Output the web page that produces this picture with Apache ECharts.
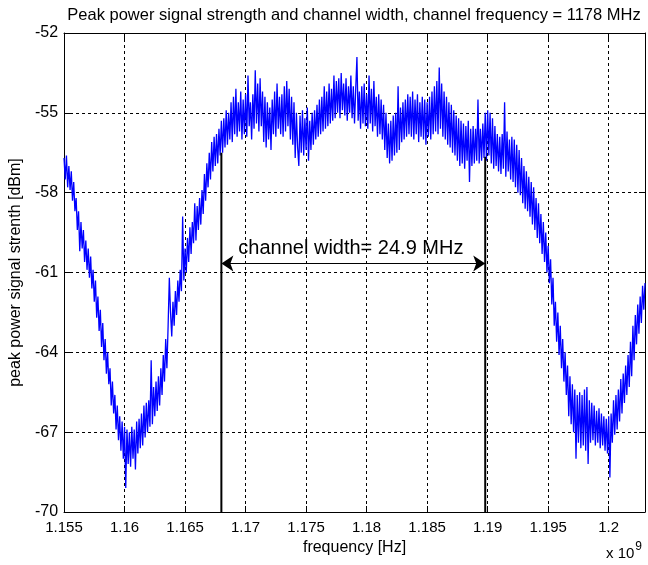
<!DOCTYPE html>
<html><head><meta charset="utf-8">
<script src="https://cdn.jsdelivr.net/npm/echarts@6/dist/echarts.min.js"></script>
<style>html,body{margin:0;padding:0;background:#fff}#c{width:648px;height:565px}</style>
</head><body><div id="c"></div>
<script>
// Sampling grid of the measured spectrum (MHz)
const FREQ_START_MHZ = 1155;
const FREQ_STEP_MHZ = 0.1;
// Peak power readings (dBm), one per 0.1 MHz
const powerDbm = [
-56.7,-57.5,-56.6,-57.8,-57.0,-57.9,-57.2,-58.3,-57.6,-58.7,
-58.2,-59.4,-58.7,-60.2,-59.1,-60.1,-59.4,-60.6,-59.8,-60.9,
-60.1,-61.2,-60.4,-61.6,-60.9,-62.1,-61.3,-62.7,-61.9,-63.2,
-62.4,-63.8,-62.9,-64.3,-63.5,-64.8,-64.0,-65.2,-64.6,-66.0,
-65.1,-66.3,-65.6,-66.9,-66.0,-67.3,-66.4,-67.7,-66.6,-68.0,
-66.8,-69.1,-66.9,-68.2,-67.0,-68.3,-66.8,-68.0,-66.9,-68.4,
-66.6,-67.8,-66.5,-67.6,-66.3,-67.5,-66.0,-67.2,-65.9,-67.0,
-65.8,-66.8,-64.3,-66.7,-65.3,-66.4,-65.1,-66.2,-64.9,-66.0,
-64.6,-65.6,-64.1,-65.1,-63.5,-64.6,-63.0,-61.2,-62.5,-63.4,
-62.1,-63.0,-61.7,-62.6,-61.3,-62.1,-60.9,-61.7,-58.9,-61.3,
-60.1,-61.0,-59.7,-60.6,-59.3,-60.3,-59.1,-59.9,-58.4,-59.8,
-58.5,-59.4,-58.2,-59.2,-57.9,-58.8,-57.3,-58.3,-56.9,-57.8,
-56.5,-57.5,-56.1,-57.2,-55.9,-57.0,-55.8,-56.9,-55.6,-56.6,
-55.3,-56.5,-55.2,-56.3,-54.9,-56.2,-55.0,-56.0,-54.6,-56.1,
-54.4,-55.8,-54.1,-55.9,-54.6,-55.7,-54.2,-56.0,-54.5,-55.8,
-54.3,-55.9,-53.6,-55.5,-54.6,-56.0,-54.3,-55.6,-53.4,-55.4,
-53.9,-55.7,-53.7,-55.5,-54.2,-56.1,-54.4,-56.3,-54.6,-56.0,
-54.8,-56.4,-54.5,-55.8,-54.2,-55.9,-53.9,-55.6,-54.4,-55.8,
-54.3,-55.9,-54.0,-55.7,-53.8,-55.5,-54.1,-56.0,-54.4,-56.2,
-54.6,-56.7,-55.0,-56.3,-57.0,-55.1,-56.5,-54.9,-56.6,-55.2,
-56.4,-54.8,-56.8,-55.3,-56.4,-55.0,-56.2,-54.9,-56.0,-54.7,
-55.9,-54.5,-55.8,-54.4,-55.7,-54.0,-55.6,-54.2,-55.5,-53.9,
-55.4,-54.1,-55.3,-53.6,-55.2,-53.8,-55.0,-53.7,-55.2,-53.5,
-54.9,-53.9,-55.1,-53.7,-55.3,-54.0,-55.0,-53.6,-55.2,-54.0,
-55.4,-54.1,-52.9,-55.3,-54.2,-55.6,-54.0,-55.4,-53.9,-55.5,
-54.3,-55.6,-53.6,-55.4,-54.1,-55.7,-53.8,-55.5,-54.4,-55.9,
-54.3,-55.8,-54.5,-56.0,-54.7,-56.4,-55.0,-56.7,-55.4,-56.9,
-55.3,-56.8,-55.1,-56.6,-55.0,-56.5,-54.0,-56.4,-54.8,-56.1,
-54.6,-56.0,-54.5,-55.9,-54.3,-55.8,-54.4,-55.9,-54.2,-56.0,
-54.5,-55.8,-54.3,-56.1,-54.6,-55.9,-54.4,-56.0,-54.5,-56.2,
-54.6,-55.9,-54.4,-56.0,-54.2,-55.8,-54.0,-55.7,-53.8,-55.8,
-53.3,-55.6,-53.9,-55.9,-54.2,-56.0,-54.4,-56.2,-54.6,-56.3,
-54.7,-56.5,-54.9,-56.6,-55.1,-56.8,-55.2,-57.0,-55.3,-56.9,
-55.4,-57.1,-55.5,-56.8,-55.3,-57.6,-55.6,-57.0,-55.5,-56.9,
-55.6,-56.8,-54.5,-56.9,-55.6,-56.8,-55.4,-56.7,-55.0,-56.8,
-54.9,-56.6,-55.0,-56.9,-55.2,-57.1,-55.5,-57.0,-55.8,-57.2,
-55.9,-57.3,-55.8,-57.1,-54.6,-57.4,-55.7,-57.2,-56.0,-57.5,
-55.9,-57.6,-56.0,-57.8,-56.2,-58.0,-56.4,-58.1,-56.7,-58.4,
-57.0,-58.6,-57.2,-58.7,-57.4,-58.9,-57.6,-59.2,-57.8,-59.4,
-58.2,-59.7,-58.4,-59.9,-58.8,-60.3,-59.1,-60.6,-59.5,-61.0,
-60.0,-61.4,-60.5,-62.2,-61.2,-63.0,-62.1,-63.6,-62.5,-64.1,
-63.0,-64.6,-63.5,-65.1,-64.0,-65.6,-64.5,-66.4,-64.9,-66.7,
-65.2,-67.0,-65.4,-68.0,-65.6,-67.4,-65.5,-67.6,-65.6,-67.5,
-65.4,-67.7,-65.3,-68.2,-65.8,-67.4,-65.9,-67.3,-66.0,-67.5,
-66.2,-67.4,-66.1,-67.6,-66.3,-67.5,-66.4,-67.7,-66.5,-67.8,
-66.4,-68.7,-66.3,-67.4,-65.8,-67.1,-65.6,-66.9,-65.4,-66.6,
-65.0,-66.3,-64.8,-65.9,-64.5,-65.6,-64.1,-65.3,-63.6,-64.9,
-63.0,-64.3,-62.6,-63.7,-62.2,-63.3,-61.9,-62.9,-61.5,-62.4,
-61.4
];
// Axis ranges / ticks
const xRangeMHz = [1155, 1203];
const xTickStepMHz = 5;
const yRangeDbm = [-70, -52];
const yTickStepDbm = 3;
// Channel-edge annotation
const edgeFreqMHz = [1168.0, 1189.8];
const edgeTopDbm = [-56.5, -56.65];
const arrowDbm = -60.66;
const labelPos = [1178.7, -60.1];
const labelText = 'channel width= 24.9 MHz';
const titleText = 'Peak power signal strength and channel width, channel frequency = 1178 MHz';

const FONT = '"Liberation Sans", Arial, Helvetica, sans-serif';
const series = powerDbm.map((v, i) => [FREQ_START_MHZ + i * FREQ_STEP_MHZ, v]);

const chart = echarts.init(document.getElementById('c'), null, {renderer: 'canvas'});
const axisCommon = {
  type: 'value',
  axisLine: {show: true, onZero: false, lineStyle: {color: '#000', width: 1}},
  axisTick: {show: true, inside: true, length: 6, lineStyle: {color: '#000', width: 1}},
};
chart.setOption({
  animation: false,
  backgroundColor: '#fff',
  grid: {left: 63, right: 2, top: 33, bottom: 53, containLabel: false, show: false},
  xAxis: [
    Object.assign({}, axisCommon, {
      min: xRangeMHz[0], max: xRangeMHz[1], interval: xTickStepMHz, position: 'bottom',
      axisLabel: {color: '#000', fontSize: 15, fontFamily: FONT, margin: 8,
        formatter: v => (Math.round(v) % xTickStepMHz === 0 ? String(Math.round(v) / 1000) : '')},
      splitLine: {show: true, lineStyle: {color: '#000', width: 1, type: [3, 3]}},
      name: 'frequency [Hz]', nameLocation: 'middle', nameGap: 24,
      nameTextStyle: {color: '#000', fontSize: 16, fontFamily: FONT}
    }),
    Object.assign({}, axisCommon, {
      min: xRangeMHz[0], max: xRangeMHz[1], interval: xTickStepMHz, position: 'top',
      axisLabel: {show: false}, splitLine: {show: false}
    })
  ],
  yAxis: [
    Object.assign({}, axisCommon, {
      min: yRangeDbm[0], max: yRangeDbm[1], interval: yTickStepDbm, position: 'left',
      axisLabel: {color: '#000', fontSize: 16, fontFamily: FONT, margin: 6},
      splitLine: {show: true, lineStyle: {color: '#000', width: 1, type: [3, 3]}},
      name: 'peak power signal strenth [dBm]', nameLocation: 'middle', nameGap: 38,
      nameTextStyle: {color: '#000', fontSize: 16, fontFamily: FONT}
    }),
    Object.assign({}, axisCommon, {
      min: yRangeDbm[0], max: yRangeDbm[1], interval: yTickStepDbm, position: 'right',
      axisLabel: {show: false}, splitLine: {show: false}
    })
  ],
  series: [
    {type: 'line', data: series, showSymbol: false, symbol: 'none',
      lineStyle: {color: '#0000ff', width: 1.3}, z: 2, clip: true},
    {type: 'line', data: [[edgeFreqMHz[0], yRangeDbm[0]], [edgeFreqMHz[0], edgeTopDbm[0]]],
      symbol: 'none', lineStyle: {color: '#000', width: 2}, z: 4},
    {type: 'line', data: [[edgeFreqMHz[1], yRangeDbm[0]], [edgeFreqMHz[1], edgeTopDbm[1]]],
      symbol: 'none', lineStyle: {color: '#000', width: 2}, z: 4},
    {type: 'lines', coordinateSystem: 'cartesian2d', z: 5,
      symbol: ['arrow', 'arrow'], symbolSize: 12,
      lineStyle: {color: '#000', width: 1, opacity: 1, curveness: 0},
      data: [{coords: [[edgeFreqMHz[0], arrowDbm], [edgeFreqMHz[1], arrowDbm]]}]}
  ]
});
const lp = chart.convertToPixel({gridIndex: 0}, labelPos);
chart.setOption({
  graphic: [
    {type: 'text', x: 354, y: 15, style: {text: titleText, fill: '#000',
      font: '16.5px ' + FONT, textAlign: 'center', textVerticalAlign: 'middle'}},
    {type: 'text', x: 606, y: 541, style: {text: '{a|x 10}{b|9}', fill: '#000',
      rich: {a: {fontSize: 15, fontFamily: FONT, color: '#000', verticalAlign: 'bottom'},
             b: {fontSize: 12, fontFamily: FONT, color: '#000', verticalAlign: 'top', padding: [0, 0, 8, 1]}}}},
    {type: 'text', x: lp[0], y: lp[1], z: 10, style: {text: labelText, fill: '#000',
      font: '20px ' + FONT, textAlign: 'center', textVerticalAlign: 'middle'}}
  ]
});
</script></body></html>
